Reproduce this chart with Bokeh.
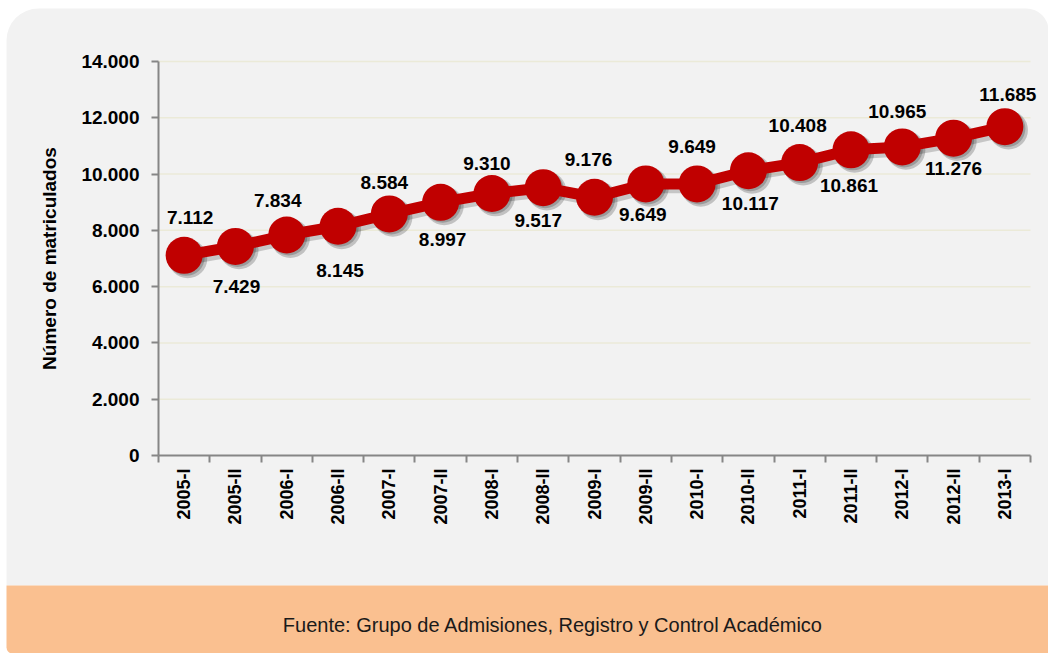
from bokeh.plotting import figure
from bokeh.models import FixedTicker, Label, ColumnDataSource, BoxAnnotation
from bokeh.transform import dodge
from bokeh.core.properties import value
from bokeh.embed import file_html
from bokeh.resources import INLINE

# ---- data ----
categories = ["2005-I", "2005-II", "2006-I", "2006-II", "2007-I", "2007-II",
              "2008-I", "2008-II", "2009-I", "2009-II", "2010-I", "2010-II",
              "2011-I", "2011-II", "2012-I", "2012-II", "2013-I"]
matriculados = [7112, 7429, 7834, 8145, 8584, 8997, 9310, 9517, 9176, 9649,
                9649, 10117, 10408, 10861, 10965, 11276, 11685]
y_ticks = [0, 2000, 4000, 6000, 8000, 10000, 12000, 14000]
y_tick_labels = ["0", "2.000", "4.000", "6.000", "8.000", "10.000", "12.000", "14.000"]
y_title = "Número de matriculados"
source_text = "Fuente: Grupo de Admisiones, Registro y Control Académico"

# label placement (pixel offsets from each point, layout only)
label_dx = [6, 1, -9, 2, -5, 2, -5, -5, -6, -3, -5, 2, -2, -2, -5, 0, 3]
label_dy = [-38, 40, -35, 44, -31, 37, -30, 33, -38, 31, -37, 33, -37, 36, -35, 30, -32]

# ---- layout (pixels) ----
W, H = 1048, 653
PLOT_L, PLOT_R, PLOT_T, PLOT_B = 158, 1030, 61, 455
Y_MIN, Y_MAX = 0, 14000
n = len(categories)
cat_w = (PLOT_R - PLOT_L) / n
ky = (Y_MAX - Y_MIN) / (PLOT_B - PLOT_T)


def px_x(px):
    return -0.5 + (px - PLOT_L) / cat_w


def px_y(py):
    return Y_MIN + (PLOT_B - py) * ky


FONT = "Liberation Sans"
RED = "#c00000"
PANEL = "#f2f2f2"
ORANGE = "#fac090"
AXIS = "#868686"

xs = list(range(n))
src = ColumnDataSource(dict(
    x=xs, y=matriculados,
    txt=[f"{v:,}".replace(",", ".") for v in matriculados],
    dx=label_dx, dy=label_dy,
))

p = figure(width=W, height=H, output_backend="svg", toolbar_location=None,
           x_range=(px_x(0), px_x(W)), y_range=(px_y(H), px_y(0)),
           min_border=0)
p.border_fill_color = "white"
p.background_fill_color = "white"
p.outline_line_color = None

# panel + footer band
p.add_layout(BoxAnnotation(left=px_x(6), top=px_y(8), bottom=px_y(585),
                           fill_color=PANEL, fill_alpha=1, line_color=None,
                           border_radius=(32, 22, 0, 0), level="image"))
p.add_layout(BoxAnnotation(left=px_x(6), top=px_y(585),
                           fill_color=ORANGE, fill_alpha=1, line_color=None,
                           border_radius=(0, 0, 0, 6), level="image"))
p.add_layout(Label(x=px_x(553), y=px_y(624), text=source_text, text_font=FONT,
                   text_font_size="20px", text_color="#1a1a1a",
                   text_align="center", text_baseline="middle"))

# horizontal grid lines across the plotting band
p.grid.visible = False
gsrc = ColumnDataSource(dict(x0=[-0.5] * (len(y_ticks) - 1),
                             x1=[n - 0.5] * (len(y_ticks) - 1),
                             y=y_ticks[1:]))
p.segment(x0="x0", x1="x1", y0="y", y1="y", source=gsrc,
          line_color="#ebead8", line_width=1.5)

# axes placed at the plot band
p.yaxis.fixed_location = -0.5
p.yaxis.bounds = (Y_MIN, Y_MAX)
p.yaxis.ticker = FixedTicker(ticks=y_ticks)
p.yaxis.major_label_overrides = {t: l for t, l in zip(y_ticks, y_tick_labels)}
p.yaxis.minor_tick_line_color = None
p.yaxis.major_tick_in = 0
p.yaxis.major_tick_out = 7
p.yaxis.major_label_standoff = 12
p.yaxis.axis_label = y_title
p.yaxis.axis_label_text_font = FONT
p.yaxis.axis_label_text_font_style = "bold"
p.yaxis.axis_label_text_font_size = "19px"
p.yaxis.axis_label_text_color = "black"
p.yaxis.axis_label_standoff = 18

p.xaxis.fixed_location = Y_MIN
p.xaxis.bounds = (-0.5, n - 0.5)
p.xaxis.ticker = FixedTicker(ticks=xs, minor_ticks=[i - 0.5 for i in range(n + 1)])
p.xaxis.major_label_overrides = {i: c for i, c in enumerate(categories)}
p.xaxis.major_label_orientation = 3.14159265 / 2
p.xaxis.major_tick_in = 0
p.xaxis.major_tick_out = 7
p.xaxis.minor_tick_in = 0
p.xaxis.minor_tick_out = 7
p.xaxis.major_label_standoff = 6
for ax in (p.xaxis, p.yaxis):
    ax.axis_line_color = AXIS
    ax.axis_line_width = 2
    ax.major_tick_line_width = 2
    ax.minor_tick_line_width = 2
    ax.major_label_text_font = FONT
    ax.major_label_text_font_style = "bold"
    ax.major_label_text_color = "black"
p.xaxis.major_label_text_font_size = "18px"
p.yaxis.major_label_text_font_size = "19px"
p.xaxis.minor_tick_line_color = AXIS
p.xaxis.major_tick_line_color = None
p.yaxis.major_tick_line_color = AXIS

# shadow
sx = dodge("x", 0.07, range=p.x_range)
sy = dodge("y", -120, range=p.y_range)
p.line(x=sx, y=sy, source=src, line_width=12, line_color="#000000", line_alpha=0.18)
p.scatter(x=sx, y=sy, source=src, size=39, fill_color="#000000", fill_alpha=0.2, line_color=None)
sx2 = dodge("x", 0.04, range=p.x_range)
sy2 = dodge("y", -70, range=p.y_range)
p.scatter(x=sx2, y=sy2, source=src, size=37, fill_color="#000000", fill_alpha=0.2, line_color=None)

# series
p.line(x="x", y="y", source=src, line_width=11, line_color=RED)
p.scatter(x="x", y="y", source=src, size=37, fill_color=RED, line_color=None)

p.text(x="x", y="y", text="txt", source=src, x_offset="dx", y_offset="dy",
       text_font=value(FONT), text_font_style="bold", text_font_size="19px",
       text_color="black", text_align="center", text_baseline="middle")

open("out.html", "w").write(file_html(p, INLINE))
